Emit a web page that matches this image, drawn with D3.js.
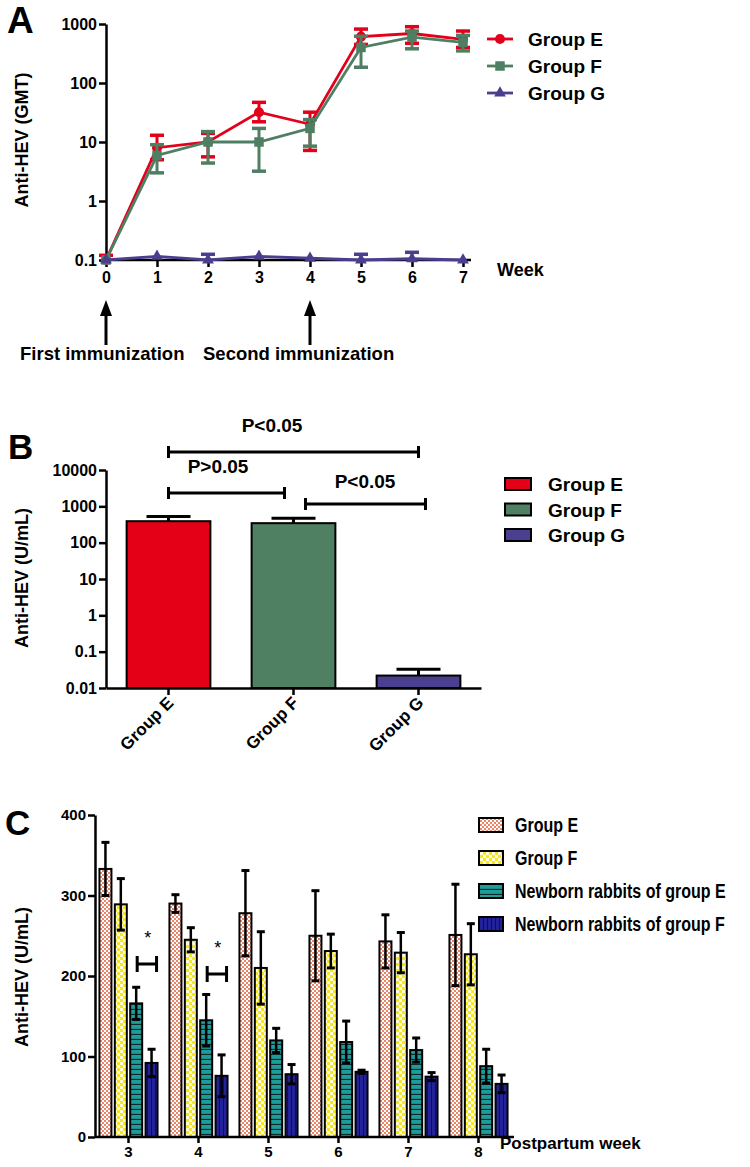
<!DOCTYPE html>
<html><head><meta charset="utf-8">
<script src="https://cdn.jsdelivr.net/npm/d3@7"></script>
<style>body{margin:0;background:#fff;} text{font-family:Arial,"Liberation Sans",sans-serif;}</style>
</head><body>
<svg id="c" width="750" height="1167"></svg>
<script>
// ---------- Panel A data ----------
const weeksA = [0,1,2,3,4,5,6,7];
const gmtE    = [0.1, 8,   10,  32, 20,  610, 690, 550];
const gmtE_hi = [0.12,13,  14,  47, 32,  820, 900, 760];
const gmtE_lo = [0.1, 5,   5.6, 22, 7.2, 450, 470, 400];
const gmtF    = [0.1, 5.9, 10,  10, 17,  400, 600, 490];
const gmtF_hi = [0.1, 9,   15,  17, 24,  620, 760, 640];
const gmtF_lo = [0.1, 3.0, 4.4, 3.2,8.5, 185, 380, 350];
const gmtG    = [0.1, 0.115, 0.1,   0.115, 0.107, 0.1,   0.105, 0.1];
const gmtG_hi = [0.1, 0.115, 0.125, 0.115, 0.107, 0.125, 0.135, 0.1];
const gmtG_lo = [0.1, 0.115, 0.1,   0.115, 0.107, 0.1,   0.105, 0.1];
const yTicksA = [0.1, 1, 10, 100, 1000];
const seriesNamesA = ["Group E","Group F","Group G"];
const arrowWeeks = [0, 4];
const arrowLabels = ["First immunization", "Second immunization"];

// ---------- Panel B data ----------
const groupsB = ["Group E","Group F","Group G"];
const valuesB = [390, 344, 0.022];
const errB    = [527, 470, 0.033];
const yTicksB = [0.01, 0.1, 1, 10, 100, 1000, 10000];
const compLabels = ["P<0.05", "P>0.05", "P<0.05"];
const compPairs = [["Group E","Group G"],["Group E","Group F"],["Group F","Group G"]];

// ---------- Panel C data ----------
const weeksC = ["3","4","5","6","7","8"];
const seriesC = ["Group E","Group F","Newborn rabbits of group E","Newborn rabbits of group F"];
const cGroupE  = [333, 290, 278, 250, 243, 251];
const cGroupF  = [289, 245, 210, 231, 229, 227];
const cNewE    = [166, 145, 120, 118, 108,  88];
const cNewF    = [ 92,  76,  78,  81,  75,  66];
const cErrE    = [ 33,  11,  53,  56,  33,  63];
const cErrF    = [ 32,  15,  45,  21,  25,  38];
const cErrNewE = [ 20,  32,  15,  26,  15,  21];
const cErrNewF = [ 17,  26,  12,   2,   5,  11];
const yTicksC = [0, 100, 200, 300, 400];
const starWeeks = ["3","4"];

const svg = d3.select("#c");
const BOLD = "bold";

function styleAxis(g, fs){
  g.selectAll("path,line").attr("stroke","#000").attr("stroke-width",2.5);
  g.selectAll("text").attr("font-size",fs).attr("font-weight",BOLD).attr("fill","#000")
   .attr("font-family","Arial, 'Liberation Sans', sans-serif");
}

// ---------- defs: patterns ----------
const defs = svg.append("defs");
let p = defs.append("pattern").attr("id","patE").attr("patternUnits","userSpaceOnUse").attr("width",4).attr("height",4);
p.append("rect").attr("width",4).attr("height",4).attr("fill","#fff");
p.append("rect").attr("width",2).attr("height",2).attr("fill","#ec8468");
p.append("rect").attr("x",2).attr("y",2).attr("width",2).attr("height",2).attr("fill","#ec8468");
p = defs.append("pattern").attr("id","patF").attr("patternUnits","userSpaceOnUse").attr("width",6).attr("height",6);
p.append("rect").attr("width",6).attr("height",6).attr("fill","#f5e81a");
p.append("rect").attr("width",3).attr("height",3).attr("fill","#fffbe0");
p.append("rect").attr("x",3).attr("y",3).attr("width",3).attr("height",3).attr("fill","#fffbe0");
p = defs.append("pattern").attr("id","patNE").attr("patternUnits","userSpaceOnUse").attr("width",6).attr("height",5);
p.append("rect").attr("width",6).attr("height",5).attr("fill","#1e9c9a");
p.append("line").attr("x1",0).attr("x2",6).attr("y1",4.5).attr("y2",4.5).attr("stroke","#0b2b2b").attr("stroke-width",1.3);
p = defs.append("pattern").attr("id","patNF").attr("patternUnits","userSpaceOnUse").attr("width",4).attr("height",6);
p.append("rect").attr("width",4).attr("height",6).attr("fill","#22229a");
p.append("line").attr("x1",3.5).attr("x2",3.5).attr("y1",0).attr("y2",6).attr("stroke","#10104a").attr("stroke-width",1);

// =================== PANEL A ===================
const xA = d3.scaleLinear().domain([0,7]).range([106,463]);
const yA = d3.scaleLog().domain([0.1,1000]).range([260,24]);
const colA = ["#e3001b","#4f7f62","#4a3f8e"];

svg.append("text").attr("x",7).attr("y",33).attr("font-size",37).attr("font-weight",BOLD).text("A");

let gy = svg.append("g").attr("transform","translate(106,0)")
  .call(d3.axisLeft(yA).tickValues(yTicksA).tickFormat(d3.format("~g")).tickSize(7).tickSizeOuter(0).tickPadding(2));
styleAxis(gy, 16);
let gx = svg.append("g").attr("transform","translate(0,260)")
  .call(d3.axisBottom(xA).tickValues(weeksA).tickFormat(d3.format("d")).tickSize(7).tickSizeOuter(0).tickPadding(5));
styleAxis(gx, 16);
gx.select(".domain").attr("d", `M${xA(0)},0H${xA(7)+8}`);

svg.append("text").attr("transform","translate(28,140) rotate(-90)").attr("text-anchor","middle")
  .attr("font-size",18).attr("font-weight",BOLD).text("Anti-HEV (GMT)");
svg.append("text").attr("x",497).attr("y",276).attr("font-size",18).attr("font-weight",BOLD).text("Week");

const seriesA = [
  {v:gmtE, hi:gmtE_hi, lo:gmtE_lo, c:colA[0], sym:d3.symbolCircle, sz:80},
  {v:gmtF, hi:gmtF_hi, lo:gmtF_lo, c:colA[1], sym:d3.symbolSquare, sz:90},
  {v:gmtG, hi:gmtG_hi, lo:gmtG_lo, c:colA[2], sym:d3.symbolTriangle, sz:60}
];
const lineA = d3.line().x((d,i)=>xA(weeksA[i])).y(d=>yA(d));
seriesA.forEach(s=>{
  const g = svg.append("g");
  g.append("path").attr("d", lineA(s.v)).attr("fill","none").attr("stroke",s.c).attr("stroke-width",2.8);
  weeksA.forEach((w,i)=>{
    const x = xA(w), yh = yA(s.hi[i]), yl = yA(s.lo[i]);
    if (yl - yh > 1) {
      g.append("line").attr("x1",x).attr("x2",x).attr("y1",yh).attr("y2",yl).attr("stroke",s.c).attr("stroke-width",3);
      if (s.hi[i] > s.v[i]) g.append("line").attr("x1",x-7).attr("x2",x+7).attr("y1",yh).attr("y2",yh).attr("stroke",s.c).attr("stroke-width",3.5);
      if (s.lo[i] < s.v[i]) g.append("line").attr("x1",x-7).attr("x2",x+7).attr("y1",yl).attr("y2",yl).attr("stroke",s.c).attr("stroke-width",3.5);
    }
    g.append("path").attr("d", d3.symbol().type(s.sym).size(s.sz)())
      .attr("transform",`translate(${x},${yA(s.v[i])})`).attr("fill",s.c);
  });
});

// legend A
seriesNamesA.forEach((n,i)=>{
  const y = 39 + i*27, s = seriesA[i];
  svg.append("line").attr("x1",487).attr("x2",513).attr("y1",y).attr("y2",y).attr("stroke",s.c).attr("stroke-width",2.8);
  svg.append("path").attr("d", d3.symbol().type(s.sym).size(s.sz)()).attr("transform",`translate(500,${y})`).attr("fill",s.c);
  svg.append("text").attr("x",528).attr("y",y+7).attr("font-size",19).attr("font-weight",BOLD).text(n);
});

// arrows
arrowWeeks.forEach((w,i)=>{
  const x = xA(w);
  svg.append("line").attr("x1",x).attr("x2",x).attr("y1",312).attr("y2",345).attr("stroke","#000").attr("stroke-width",3);
  svg.append("path").attr("d",`M${x},300L${x-6},316L${x+6},316Z`).attr("fill","#000");
});
svg.append("text").attr("x",20).attr("y",360).attr("font-size",18.5).attr("font-weight",BOLD).text(arrowLabels[0]);
svg.append("text").attr("x",203).attr("y",360).attr("font-size",18.5).attr("font-weight",BOLD).text(arrowLabels[1]);

// =================== PANEL B ===================
const xB = d3.scaleBand().domain(groupsB).range([106,481]).paddingInner(0.33).paddingOuter(0.165);
const yB = d3.scaleLog().domain([0.01,10000]).range([688,470]);
const colB = ["#e40016","#508062","#4b3f8f"];

svg.append("text").attr("x",8).attr("y",459).attr("font-size",35).attr("font-weight",BOLD).text("B");

svg.selectAll(".barB").data(groupsB).join("rect")
  .attr("x",d=>xB(d)).attr("width",xB.bandwidth())
  .attr("y",(d,i)=>yB(valuesB[i])).attr("height",(d,i)=>yB(0.01)-yB(valuesB[i]))
  .attr("fill",(d,i)=>colB[i]).attr("stroke","#000").attr("stroke-width",2);
groupsB.forEach((d,i)=>{
  const cx = xB(d)+xB.bandwidth()/2;
  svg.append("line").attr("x1",cx).attr("x2",cx).attr("y1",yB(valuesB[i])).attr("y2",yB(errB[i])).attr("stroke","#000").attr("stroke-width",3);
  svg.append("line").attr("x1",cx-22).attr("x2",cx+22).attr("y1",yB(errB[i])).attr("y2",yB(errB[i])).attr("stroke","#000").attr("stroke-width",3);
});

gy = svg.append("g").attr("transform","translate(106,0)")
  .call(d3.axisLeft(yB).tickValues(yTicksB).tickFormat(d3.format("~g")).tickSize(7).tickSizeOuter(0).tickPadding(2));
styleAxis(gy, 16);
gx = svg.append("g").attr("transform","translate(0,688)")
  .call(d3.axisBottom(xB).tickSize(7).tickSizeOuter(0));
styleAxis(gx, 17);
gx.selectAll("text").attr("text-anchor","end").attr("dy",null).attr("y",0)
  .attr("transform","translate(6,16) rotate(-45)");

svg.append("text").attr("transform","translate(28,578) rotate(-90)").attr("text-anchor","middle")
  .attr("font-size",18).attr("font-weight",BOLD).text("Anti-HEV (U/mL)");

// comparison brackets (layout)
const bracketLayout = [
  {y:452, dx1:0, dx2:0, tx:272, ty:432},
  {y:493, dx1:0, dx2:-9, tx:218, ty:473},
  {y:504, dx1:12, dx2:7, tx:365, ty:488}
];
compPairs.forEach((pr,i)=>{
  const L = bracketLayout[i];
  const x1 = xB(pr[0])+xB.bandwidth()/2 + L.dx1, x2 = xB(pr[1])+xB.bandwidth()/2 + L.dx2;
  svg.append("path").attr("d",`M${x1},${L.y-6}V${L.y+6}M${x1},${L.y}H${x2}M${x2},${L.y-6}V${L.y+6}`)
    .attr("stroke","#000").attr("stroke-width",3).attr("fill","none");
  svg.append("text").attr("x",L.tx).attr("y",L.ty).attr("text-anchor","middle")
    .attr("font-size",19).attr("font-weight",BOLD).text(compLabels[i]);
});

// legend B
groupsB.forEach((n,i)=>{
  const y = 484 + i*25.5;
  svg.append("rect").attr("x",505).attr("y",y-6).attr("width",26).attr("height",12).attr("fill",colB[i]).attr("stroke","#000").attr("stroke-width",2);
  svg.append("text").attr("x",548).attr("y",y+7).attr("font-size",19).attr("font-weight",BOLD).text(n);
});

// =================== PANEL C ===================
const x0 = d3.scaleBand().domain(weeksC).range([93.5,513.5]).paddingInner(0.17).paddingOuter(0.085);
const x1 = d3.scaleBand().domain(seriesC).range([0,x0.bandwidth()]).paddingInner(0.22);
const yC = d3.scaleLinear().domain([0,400]).range([1137,815]);
const valsC = [cGroupE, cGroupF, cNewE, cNewF];
const errsC = [cErrE, cErrF, cErrNewE, cErrNewF];
const fillsC = ["url(#patE)","url(#patF)","url(#patNE)","url(#patNF)"];

svg.append("text").attr("x",5).attr("y",835).attr("font-size",35).attr("font-weight",BOLD).text("C");

weeksC.forEach((w,wi)=>{
  seriesC.forEach((s,si)=>{
    const v = valsC[si][wi], e = errsC[si][wi];
    const x = x0(w)+x1(s), cx = x + x1.bandwidth()/2;
    svg.append("rect").attr("x",x).attr("width",x1.bandwidth()).attr("y",yC(v)).attr("height",yC(0)-yC(v))
      .attr("fill",fillsC[si]).attr("stroke","#000").attr("stroke-width",2);
    svg.append("line").attr("x1",cx).attr("x2",cx).attr("y1",yC(v+e)).attr("y2",yC(v-e)).attr("stroke","#000").attr("stroke-width",2.5);
    [v+e, v-e].forEach(t=>svg.append("line").attr("x1",cx-4).attr("x2",cx+4).attr("y1",yC(t)).attr("y2",yC(t)).attr("stroke","#000").attr("stroke-width",3));
  });
});

gy = svg.append("g").attr("transform","translate(95,0)")
  .call(d3.axisLeft(yC).tickValues(yTicksC).tickSize(7).tickSizeOuter(0).tickPadding(2));
styleAxis(gy, 15);
gx = svg.append("g").attr("transform","translate(0,1137)")
  .call(d3.axisBottom(x0).tickSize(6).tickSizeOuter(0).tickPadding(3));
styleAxis(gx, 15);
gx.select(".domain").attr("d","M95,0H514");

svg.append("text").attr("transform","translate(28,977) rotate(-90)").attr("text-anchor","middle")
  .attr("font-size",18).attr("font-weight",BOLD).text("Anti-HEV (U/mL)");
svg.append("text").attr("x",500).attr("y",1149).attr("font-size",17).attr("font-weight",BOLD).text("Postpartum week");

// significance stars (layout offsets)
const starLayout = [{by:964, sy:944},{by:974, sy:954}];
starWeeks.forEach((w,i)=>{
  const L = starLayout[i];
  const xa = x0(w)+x1(seriesC[2])+x1.bandwidth()/2+1, xb = x0(w)+x1(seriesC[3])+x1.bandwidth()/2+5;
  svg.append("path").attr("d",`M${xa},${L.by-8}V${L.by+8}M${xa},${L.by}H${xb}M${xb},${L.by-8}V${L.by+8}`)
    .attr("stroke","#000").attr("stroke-width",3).attr("fill","none");
  svg.append("text").attr("x",(xa+xb)/2+1).attr("y",L.sy).attr("text-anchor","middle").attr("font-size",18).text("*");
});

// legend C (condensed bold text)
seriesC.forEach((n,i)=>{
  const y = 825 + i*33;
  svg.append("rect").attr("x",479).attr("y",y-7).attr("width",24).attr("height",14).attr("fill",fillsC[i]).attr("stroke","#000").attr("stroke-width",2);
  svg.append("text").attr("transform",`translate(515,${y+7}) scale(0.8,1)`).attr("font-size",20).attr("font-weight",BOLD).text(n);
});
</script>
</body></html>
